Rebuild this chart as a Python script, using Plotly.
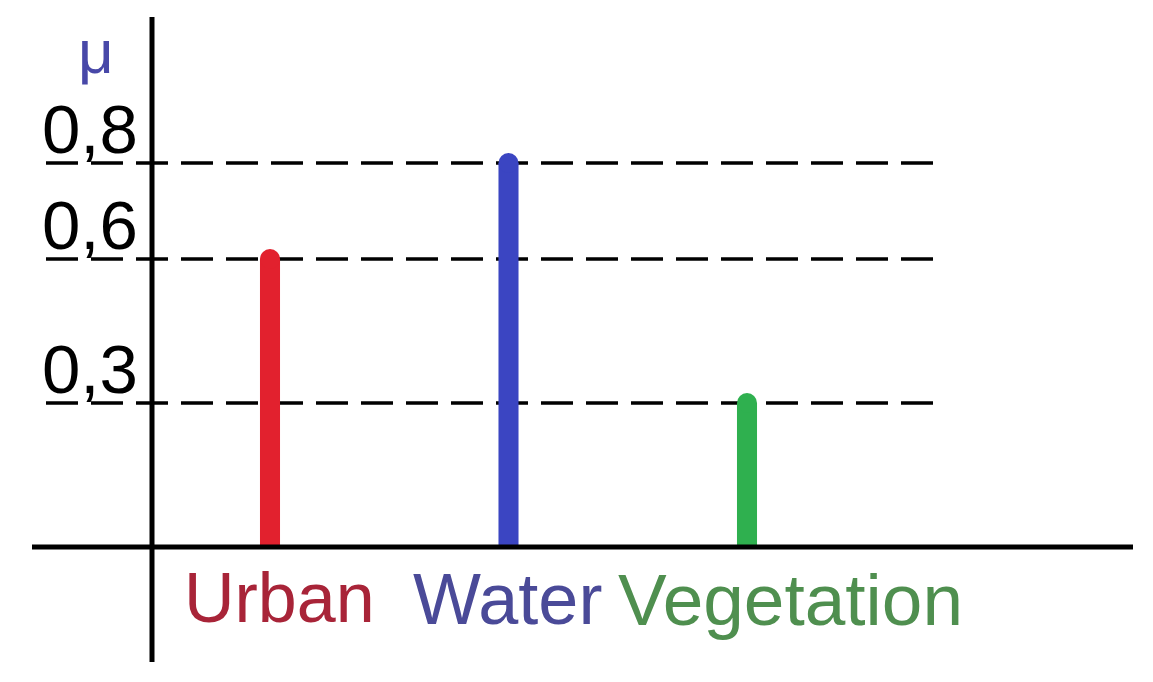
import plotly.graph_objects as go

categories = ["Urban", "Water", "Vegetation"]
values = [0.6, 0.8, 0.3]
bar_colors = ["#e2212e", "#3b45c2", "#2fb04f"]
label_colors = ["#a82438", "#4a4a98", "#4f8f4f"]
tick_values = [0.8, 0.6, 0.3]
tick_labels = ["0,8", "0,6", "0,3"]

# page body has an 8px margin: figure is placed at (8, 8)
OFF = 8
W, H = 1153 - 2 * OFF, 682 - 2 * OFF
FONT = "Liberation Sans, Arial, sans-serif"


def px(X):
    return (X - OFF) / W


def py(Y):
    return 1 - (Y - OFF) / H


fig = go.Figure()
fig.add_trace(go.Bar(
    x=categories, y=values, width=0.084,
    marker=dict(color=bar_colors, line=dict(width=0)),
    hoverinfo="skip", showlegend=False,
))
# rounded caps on top of each bar
fig.add_trace(go.Scatter(
    x=categories, y=values, mode="markers",
    marker=dict(color=bar_colors, size=20, symbol="circle", line=dict(width=0)),
    hoverinfo="skip", showlegend=False, cliponaxis=False,
))

shapes = []
for v in tick_values:
    shapes.append(dict(type="line", xref="paper", yref="y",
                       x0=px(46), x1=px(945), y0=v, y1=v,
                       line=dict(color="black", width=3.5, dash="32px,13px"),
                       layer="below"))
shapes.append(dict(type="line", xref="paper", yref="y", x0=px(32), x1=px(1133),
                   y0=0, y1=0, line=dict(color="black", width=5)))
shapes.append(dict(type="line", xref="paper", yref="paper", x0=px(152), x1=px(152),
                   y0=py(17), y1=py(662), line=dict(color="black", width=5)))

annotations = []
for v, t in zip(tick_values, tick_labels):
    annotations.append(dict(x=px(140), xref="paper", y=v, yref="y", text=t,
                            xanchor="right", yanchor="bottom", showarrow=False,
                            yshift=-7,
                            font=dict(family=FONT, size=69, color="black")))
label_shift = [-88, -98, -131]
label_sizes = [70, 72, 73]
for c, col, s, fs in zip(categories, label_colors, label_shift, label_sizes):
    annotations.append(dict(x=c, xref="x", y=0, yref="y", text=c,
                            xanchor="left", yanchor="top", xshift=s, yshift=-10,
                            showarrow=False,
                            font=dict(family=FONT, size=fs, color=col)))
annotations.append(dict(x=px(96), xref="paper", y=py(52), yref="paper", text="μ",
                        xanchor="center", yanchor="middle", showarrow=False,
                        font=dict(family=FONT, size=62, color="#4848a8")))

fig.update_layout(
    width=W, height=H,
    margin=dict(l=0, r=0, t=0, b=0),
    paper_bgcolor="white", plot_bgcolor="white",
    xaxis=dict(type="category", categoryorder="array", categoryarray=categories,
               range=[-(270 - OFF) / 238.5, (W - (270 - OFF)) / 238.5],
               visible=False, fixedrange=True),
    yaxis=dict(range=[-(H - (547 - OFF)) / 480, (547 - OFF) / 480],
               visible=False, fixedrange=True),
    shapes=shapes, annotations=annotations,
)

fig.write_html("out.html")
